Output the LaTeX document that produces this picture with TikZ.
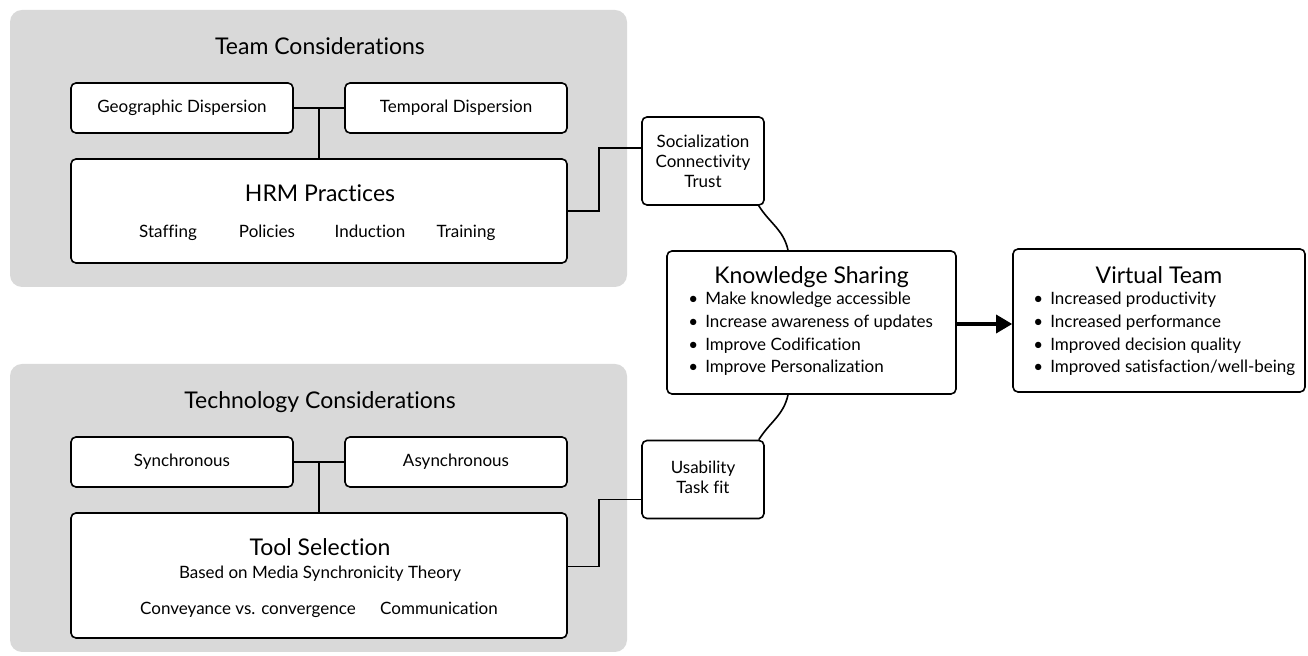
\documentclass[tikz,border=0pt]{standalone}
\usepackage{fontspec}
\setmainfont{Lato}[Ligatures=NoCommon]
\usetikzlibrary{positioning, arrows.meta, calc}

\begin{document}
\begin{tikzpicture}[
    x=0.5pt,
    y=0.5pt,
    panel/.style={fill=black!15, rounded corners=6pt, inner sep=0pt},
    box/.style={draw, fill=white, rounded corners=2.5pt, line width=0.8pt, inner sep=0pt},
    smallbox/.style={box, minimum width=111pt, minimum height=25pt},
    headtext/.style={font=\fontsize{11.5}{13}\selectfont},
    smalltext/.style={font=\fontsize{8.5}{10}\selectfont},
    itemtext/.style={smalltext, text height=6.5pt, text depth=2pt},
    listtext/.style={font=\fontsize{8.5}{11.3}\selectfont, align=left, inner sep=0pt},
    link/.style={line width=0.8pt}
]
\useasboundingbox (0,0) rectangle (1308,-656);

%---------------- Team considerations ----------------
\node[panel, minimum width=308.5pt, minimum height=138.5pt] (teampanel) at (318.5,-148.5) {};
\node[headtext] (teamtitle) at (320,-46) {Team Considerations};
\node[smallbox] (geo) at (182,-108) {};
\node[itemtext] (geotext) at (geo) {Geographic Dispersion};
\node[smallbox] (temp) at (456,-108) {};
\node[itemtext] (temptext) at (temp) {Temporal Dispersion};
\node[box, minimum width=248pt, minimum height=52pt] (hrm) at (319,-211) {};
\node[headtext] (hrmtitle) at (320,-193) {HRM Practices};
\foreach \name/\x/\lab in {staff/168/Staffing, pol/267/Policies, ind/370/Induction, train/466/Training} {
    \node[itemtext] (\name) at (\x,-233) {\lab};
}

%---------------- Technology considerations ----------------
\node[panel, minimum width=308.5pt, minimum height=144pt] (techpanel) at (318.5,-508) {};
\node[headtext] (techtitle) at (320,-402) {Technology Considerations};
\node[smallbox] (sync) at (182,-462) {};
\node[itemtext] (synctext) at (sync) {Synchronous};
\node[smallbox] (async) at (456,-462) {};
\node[itemtext] (asynctext) at (async) {Asynchronous};
\node[box, minimum width=248pt, minimum height=62.5pt] (tool) at (319,-575.5) {};
\node[headtext] (tooltitle) at (320,-547) {Tool Selection};
\node[itemtext] (mst) at (320,-574) {Based on Media Synchronicity Theory};
\node[itemtext] (conv) at (248,-610) {Conveyance vs. convergence};
\node[itemtext] (comm) at (439,-610) {Communication};

%---------------- Mediators ----------------
\node[box, minimum width=61pt, minimum height=44pt] (soc) at (703,-161) {};
\node[smalltext, align=center] (soctext) at (703,-161) {Socialization\\Connectivity\\Trust};
\node[box, minimum width=61pt, minimum height=39pt] (usab) at (703,-479.5) {};
\node[smalltext, align=center] (usabtext) at (703,-477.5) {Usability\\Task fit};

%---------------- Knowledge sharing ----------------
\node[box, minimum width=144.5pt, minimum height=71.5pt] (ks) at (811.5,-322.5) {};
\node[headtext] (kstitle) at (811.5,-277) {Knowledge Sharing};
\node[listtext, anchor=north west] (kslist) at (688,-292) {%
  \textbullet\hspace{3.5pt}Make knowledge accessible\\
  \textbullet\hspace{3.5pt}Increase awareness of updates\\
  \textbullet\hspace{3.5pt}Improve Codification\\
  \textbullet\hspace{3.5pt}Improve Personalization};

%---------------- Virtual team ----------------
\node[box, minimum width=146pt, minimum height=71.5pt] (vt) at (1159,-320.5) {};
\node[headtext] (vttitle) at (1159,-275) {Virtual Team};
\node[listtext, anchor=north west] (vtlist) at (1033,-292) {%
  \textbullet\hspace{3.5pt}Increased productivity\\
  \textbullet\hspace{3.5pt}Increased performance\\
  \textbullet\hspace{3.5pt}Improved decision quality\\
  \textbullet\hspace{3.5pt}Improved satisfaction/well-being};

%---------------- Connections ----------------
\coordinate (teamjoin) at ($(geo.east)!0.5!(temp.west)$);
\draw[link] (geo.east) -- (temp.west);
\draw[link] (teamjoin) -- (teamjoin |- hrm.north);

\coordinate (techjoin) at ($(sync.east)!0.5!(async.west)$);
\draw[link] (sync.east) -- (async.west);
\draw[link] (techjoin) -- (techjoin |- tool.north);

\draw[link] (hrm.east) -- ++(31,0) |- ([yshift=6.5pt]soc.west);
\draw[link] ([yshift=4.5pt]tool.east) -- ++(31,0) |- ([yshift=-10pt]usab.west);

\draw[link] ([xshift=-3pt]soc.south east) to[out=-58, in=102] ([xshift=-11.75pt]ks.north);
\draw[link] ([xshift=-11.75pt]ks.south) to[out=-102, in=58] ([xshift=-3pt]usab.north east);

\draw[line width=1.6pt, -{Triangle[length=8pt, width=9pt]}] ([yshift=-0.75pt]ks.east) -- ([yshift=-0.75pt]ks.east -| vt.west);
\end{tikzpicture}
\end{document}
